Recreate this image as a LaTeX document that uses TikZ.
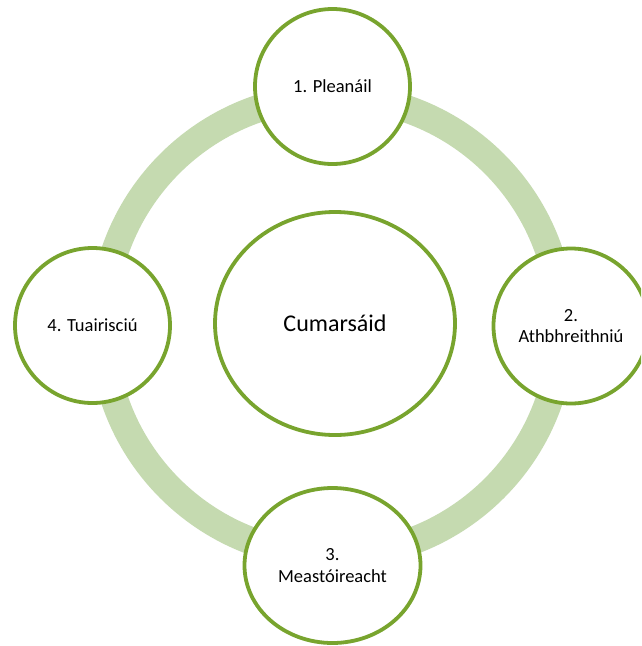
\documentclass[tikz,border=0pt]{standalone}
\usepackage{fontspec}
\setmainfont{Carlito}
\usetikzlibrary{shapes.geometric}
\definecolor{ringgreen}{RGB}{197,218,176}
\definecolor{nodegreen}{RGB}{120,164,46}
\begin{document}
\begin{tikzpicture}[x=1pt,y=-1pt,
  stagenode/.style={circle, draw=nodegreen, line width=3.8pt, fill=white,
    minimum size=155pt, inner sep=0pt, align=center,
    font=\fontsize{18.5}{21.5}\selectfont},
  ovalnode/.style={ellipse, draw=nodegreen, line width=3.8pt, fill=white,
    inner sep=0pt, align=center, font=\fontsize{18.5}{21.5}\selectfont},
  ringstyle/.style={draw=ringgreen, line width=27.5pt}
]
\useasboundingbox (0,0) rectangle (641,646);
\clip (0,0) rectangle (641,646);
\coordinate (c) at (332,326);
\draw[ringstyle] (c) circle[radius=229.5];
\node[ovalnode, minimum width=240pt, minimum height=223pt,
  font=\fontsize{24}{28}\selectfont] (hub) at (335,323.5) {Cumarsáid};
\node[stagenode] (n1) at (332.5,86.5) {1. Pleanáil};
\node[stagenode] (n2) at (571,326) {2.\\Athbhreithniú};
\node[ovalnode, minimum width=176pt, minimum height=155pt] (n3) at (332.5,565.5) {3.\\Meastóireacht};
\node[stagenode] (n4) at (92.5,325.5) {4. Tuairisciú};
\end{tikzpicture}
\end{document}
